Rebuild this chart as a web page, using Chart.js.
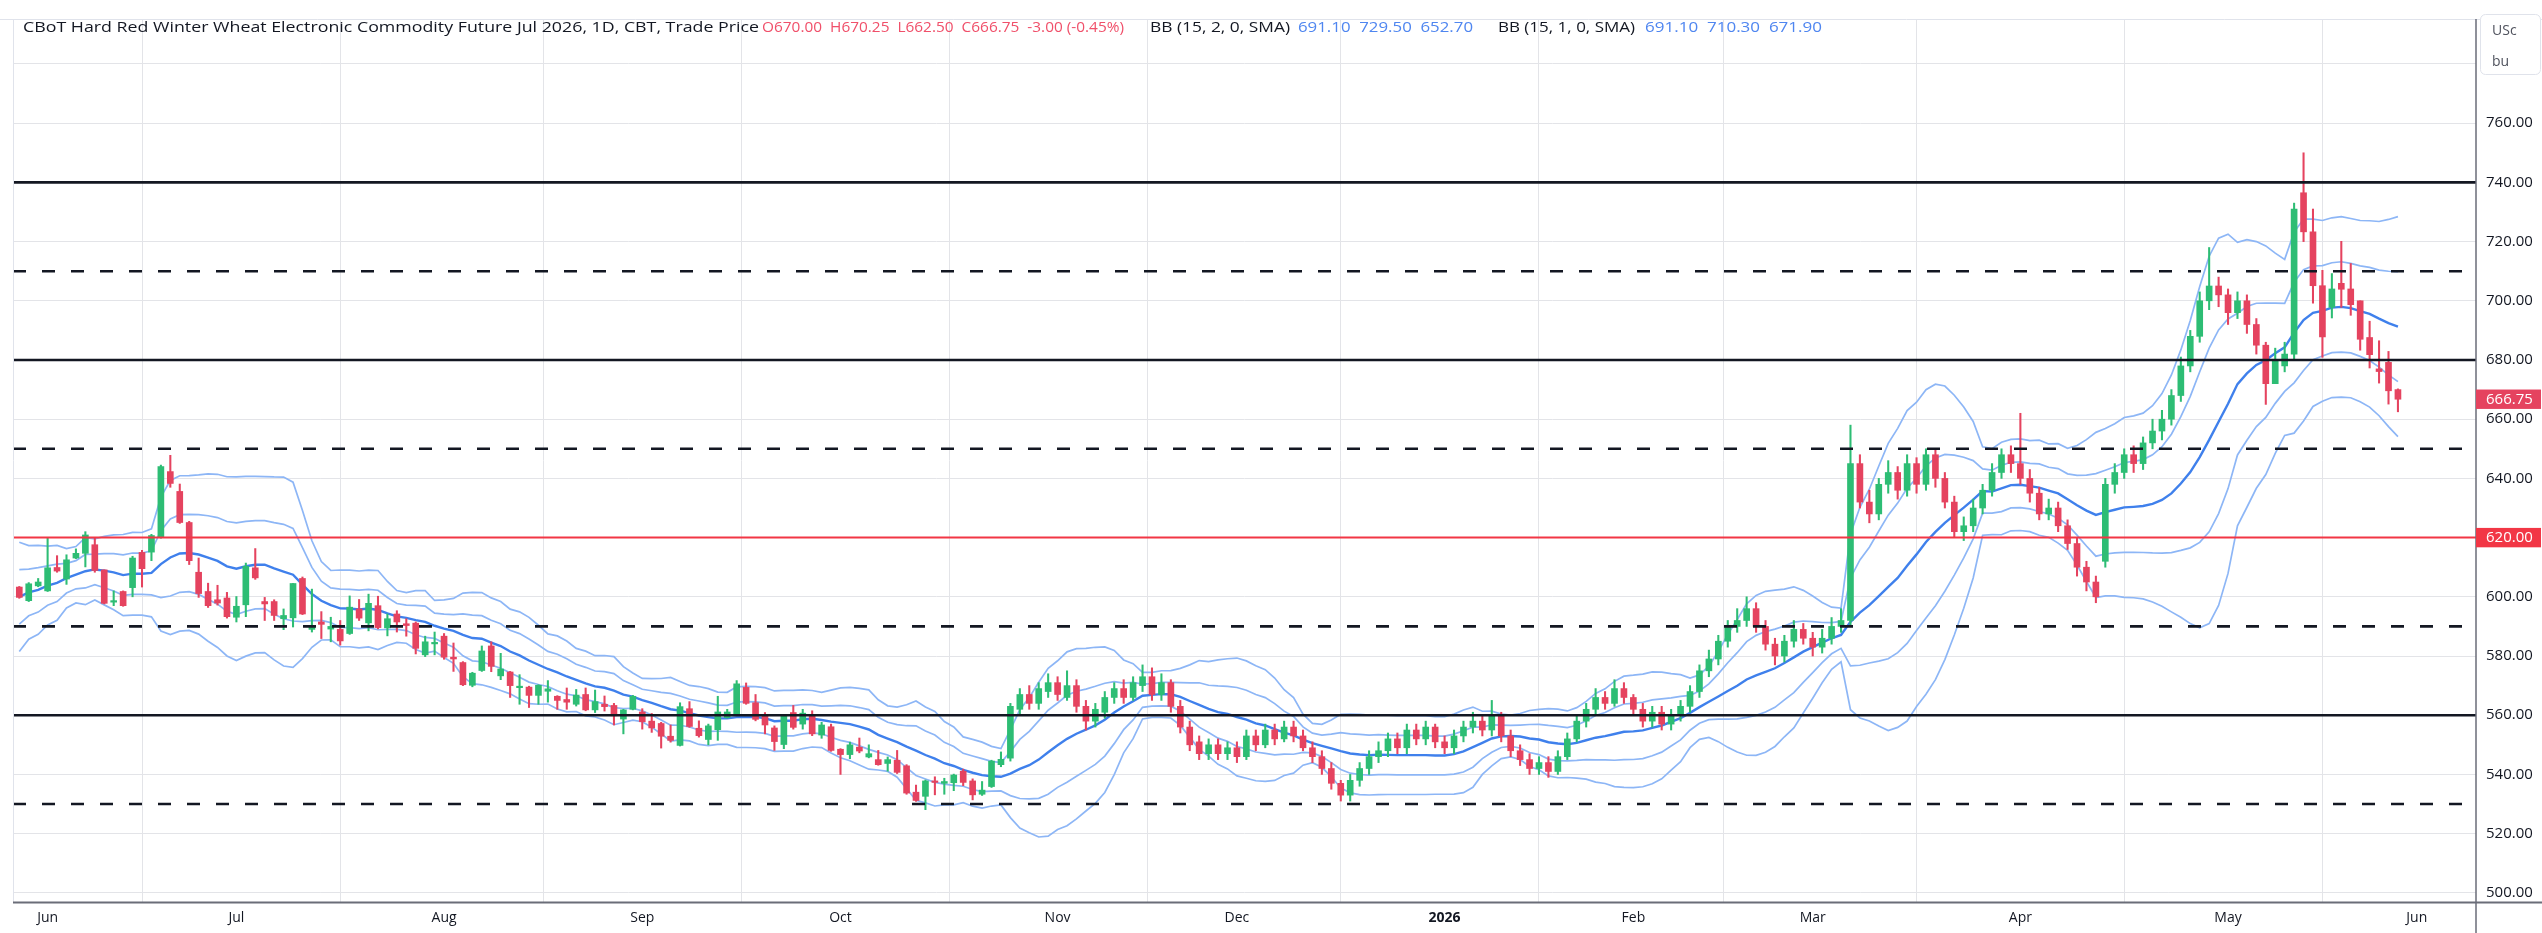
<!DOCTYPE html>
<html><head><meta charset="utf-8">
<script src="https://cdn.jsdelivr.net/npm/chart.js@4.4.1/dist/chart.umd.min.js"></script>
<style>html,body{margin:0;padding:0;background:#fff;overflow:hidden}canvas{display:block}</style>
</head><body>
<canvas id="c" width="2542" height="933" style="width:2542px;height:933px"></canvas>
<script>
// ---------- DATA ----------
const monthTickIndex  = [3, 23, 45, 66, 87, 110, 129, 151, 171, 190, 212, 234, 254];
const monthTickLabels = ['Jun','Jul','Aug','Sep','Oct','Nov','Dec','2026','Feb','Mar','Apr','May','Jun'];
const priceTicks = [500,520,540,560,580,600,620,640,660,680,700,720,740,760,780];
// closes of the 14 sessions before the first visible bar (needed for the BB(15) window)
const priorCloses = [582,592,588,595,589,597,603,600,604,607,611,606,610,616];

const opens = [
603.3,598.7,603.7,602.0,609.9,606.0,613.1,614.7,617.6,609.1,
598.2,601.8,603.1,615.0,615.1,620.0,642.3,635.6,625.1,608.3,
601.8,599.0,599.6,593.1,597.3,609.8,598.4,598.4,592.6,592.9,
606.2,589.0,591.5,589.1,589.0,587.6,595.9,591.2,597.0,589.5,
594.2,590.9,591.1,580.4,584.1,586.7,579.6,577.8,570.1,575.1,
583.4,573.3,574.6,569.3,569.5,566.7,568.1,566.4,565.3,563.7,
567.0,561.8,563.7,563.3,558.7,562.0,561.1,558.0,557.2,552.9,
549.8,562.2,555.6,551.8,555.1,559.2,560.1,569.4,564.2,560.3,
555.7,550.1,560.9,557.0,559.8,553.3,556.1,548.5,546.7,549.2,
545.9,545.0,543.7,544.8,542.9,534.0,532.6,537.8,537.0,537.2,
541.1,537.8,533.3,535.9,543.3,
545.5,562,567,564,568,571,566,570,563,558,561,566,569,566,570,573,567,571,563,556,551,547,550,547,
549,546,553,550,555,552,556,553,549,546,542,537,533,538,542,546,548,552,549,555,552,556,
551,549,553,556,558,555,560,553,548,545,542,544,541,546,552,558,562,566,564,569,
566,562,558,561,557,560,563,568,575,579,585,590,592,596,590,584,580,585,589,
586,583,586,590,592,645,632,628,638,642,636,645,638,648,640,632,622,624,630,636,642,648,
645,640,635,628,630,624,618,610,605,612,638,642,648,645,652,656,660,668,678,688,700,705,
702,696,700,692,685,672,678,682,736.5,723.3,705.1,697.8,705.9,704.0,700.0,687.6,677.0,679.2,670.0];

const highs = [
603.5,604.8,606.2,619.8,613.9,614.2,616.2,622.0,620.0,609.1,
602.0,602.0,613.7,615.7,621.1,644.5,647.8,638.1,625.5,613.1,
604.6,603.9,601.5,600.1,611.4,616.3,599.8,599.0,595.9,604.5,
606.7,602.6,595.0,593.1,592.0,600.3,599.1,600.9,600.2,594.2,
595.3,592.6,591.5,586.7,588.1,587.6,584.4,578.1,574.5,583.4,
584.8,580.9,574.8,573.7,569.8,570.3,571.7,566.6,569.2,568.7,
569.2,568.5,566.5,564.0,562.0,566.7,562.2,560.6,557.6,556.7,
564.2,564.6,558.1,557.0,566.4,562.0,571.7,570.9,567.0,560.9,
556.4,560.2,563.3,562.0,561.5,557.6,557.0,548.7,550.9,552.3,
550.0,548.1,545.9,548.1,543.3,536.4,538.1,539.2,538.7,540.1,
541.8,538.5,537.6,544.8,547.6,
564,569,570,571,574,573,575,572,565,564,568,571,572,573,577,576,574,572,565,558,553,552,552,551,
551,555,555,557,557,558,558,555,551,548,544,538,540,544,548,551,554,554,557,557,558,557,
553,555,558,561,560,565,561,555,550,547,546,546,548,554,560,564,569,568,572,571,
567,564,563,563,562,565,570,577,582,587,592,596,600,598,592,586,587,592,591,
588,589,593,596,658,648,636,640,646,644,648,647,650,650,642,634,627,633,638,645,650,651,
662,643,637,633,632,626,620,612,607,640,645,650,651,654,660,663,670,681,690,703,718,708,
704,703,702,694,686,684,686,733,750,731,710.3,709.2,720.1,712.6,700.0,693.1,686.5,682.9,670.25];

const lows = [
599.5,598.4,603.4,601.8,608.3,604.2,612.9,610.1,608.3,597.6,
597.0,596.8,600.0,603.3,612.2,619.8,637.0,624.8,610.9,599.8,
596.4,597.2,592.8,591.5,593.3,605.9,592.0,592.0,588.9,589.8,
594.0,588.1,585.9,584.8,583.7,587.3,592.0,588.5,589.2,586.8,
588.1,586.7,580.7,579.8,580.4,578.9,574.8,570.0,569.6,574.8,
574.7,572.0,566.0,563.7,562.6,563.7,564.4,562.0,562.0,563.1,
561.5,560.9,561.4,556.7,553.7,561.8,555.3,554.2,548.9,550.9,
549.6,555.9,552.6,550.0,551.5,559.0,559.8,563.7,558.1,553.7,
548.1,548.7,555.3,555.3,553.1,552.2,547.8,540.0,545.3,547.3,
545.6,543.1,541.1,540.3,533.3,530.9,528.1,533.1,533.3,534.5,
536.2,531.4,532.9,535.6,542.6,
544.5,560,562,562,566,565,565,561,555,556,559,564,564,565,568,565,565,561,554,548,545,545,545,545,
544,545,548,549,550,551,551,548,544,540,535,531,531,536,540,544,546,547,547,550,550,549,
547,547,551,554,553,553,551,546,543,540,540,539,540,545,551,556,560,562,563,564,
560,556,556,555,555,558,561,566,573,577,583,588,590,588,582,577,578,583,584,
580,581,584,588,590,630,625,626,635,633,634,635,636,637,630,620,619,622,628,634,640,642,
638,632,626,626,622,616,607,602,598,610,635,640,642,643,650,653,658,666,676,686,697,698,
692,694,689,682,665,672,676,680,720,699.2,680.9,694.2,697.8,695.1,683.3,677.3,672.2,665.1,662.5];

const closes = [
599.8,604.4,605.0,609.8,608.7,612.5,614.7,620.9,608.9,597.8,
598.6,597.0,613.1,609.5,620.7,644.0,638.3,625.1,612.2,601.1,
597.0,597.9,593.3,596.8,610.3,606.4,597.6,593.7,593.7,604.5,
594.2,590.3,590.7,590.0,585.1,596.5,592.8,597.8,589.6,592.6,
591.5,590.3,582.6,584.8,584.5,579.6,579.0,570.3,574.2,581.7,
576.5,575.6,570.0,569.8,566.7,570.1,568.9,565.0,564.4,566.8,
561.8,564.6,562.9,559.8,561.8,566.4,557.8,555.7,552.9,551.5,
562.9,556.2,553.1,556.4,561.1,561.1,570.6,564.0,558.6,556.7,
551.1,560.0,555.9,560.7,553.7,556.7,548.1,546.7,550.0,547.9,
547.0,543.3,545.0,540.7,533.7,531.2,537.8,537.3,537.6,539.8,
537.3,533.1,534.7,544.5,545.1,
563,567,564,569,571,567,570,563,558,562,566,569,566,571,573,567,571,563,556,550,547,550,547,549,
546,553,550,555,552,556,553,549,546,542,537,533,538,542,546,548,552,549,555,552,556,551,
549,553,556,558,555,560,553,548,545,542,544,541,546,552,558,562,566,564,569,566,
562,558,561,557,560,563,568,575,579,585,590,592,596,590,584,580,585,589,586,
583,586,590,592,645,632,628,638,642,636,645,638,648,640,632,622,624,630,636,642,648,645,
640,635,628,630,624,618,610,605,600,638,642,648,645,652,656,660,668,678,688,700,705,702,
696,700,692,685,672,680,682,731,723.3,705.1,687.8,704.0,703.9,698.7,687.0,681.8,676.1,669.6,666.75];

const levelsSolid  = [740, 680, 560];
const levelsDashed = [710, 650, 590, 530];
const levelRed = 620;

// ---------- derived: Bollinger Bands (SMA 15, population stdev) ----------
const allC = priorCloses.concat(closes);
const P = priorCloses.length;
const basis = [], up2 = [], dn2 = [], up1 = [], dn1 = [];
for (let i = 0; i < closes.length; i++) {
  const w = allC.slice(P + i - 14, P + i + 1);
  const m = w.reduce((a, b) => a + b, 0) / w.length;
  const sd = Math.sqrt(w.reduce((a, b) => a + (b - m) * (b - m), 0) / w.length);
  basis.push(m); up2.push(m + 2 * sd); dn2.push(m - 2 * sd); up1.push(m + sd); dn1.push(m - sd);
}

const N = closes.length;
const X_MIN = -0.667, X_MAX = 260.27;
const UP = '#2dbd74', DN = '#e5435f';
const isUp = i => closes[i] >= opens[i];
const idx = closes.map((_, i) => i);
const band = (arr, color, w) => ({ type: 'line', data: idx.map(i => ({ x: i, y: arr[i] })), borderColor: color, borderWidth: w, pointRadius: 0, tension: 0, order: 3 });
const hline = (v, color, w, dash) => ({ type: 'line', data: [{ x: X_MIN, y: v }, { x: X_MAX, y: v }], borderColor: color, borderWidth: w, borderDash: dash || [], pointRadius: 0, order: 0 });

const datasets = [
  { type: 'bar', data: idx.map(i => ({ x: i, y: [lows[i], highs[i]] })), backgroundColor: c => isUp(c.dataIndex) ? UP : DN, barThickness: 1.4, grouped: false, order: 2 },
  { type: 'bar', data: idx.map(i => ({ x: i, y: [opens[i], closes[i]] })), backgroundColor: c => isUp(c.dataIndex) ? UP : DN, barThickness: 6, minBarLength: 1.5, grouped: false, order: 1 },
  band(up2, '#8db6f6', 1.7), band(dn2, '#8db6f6', 1.7),
  band(up1, '#8db6f6', 1.7), band(dn1, '#8db6f6', 1.7),
  band(basis, '#3f80ec', 2.4),
  ...levelsSolid.map(v => hline(v, '#131722', 2.6)),
  ...levelsDashed.map(v => hline(v, '#131722', 2.6, [13, 16])),
  hline(levelRed, '#f23645', 2)
];

function fitText(c, txt, x0, x1, y, color, size, weight) {
  c.save();
  c.font = (weight || 'normal') + ' ' + size + 'px "Open Sans"';
  const w = c.measureText(txt).width;
  c.translate(x0, y); c.scale((x1 - x0) / w, 1);
  c.fillStyle = color; c.textBaseline = 'middle'; c.textAlign = 'left';
  c.fillText(txt, 0, 0);
  c.restore();
}

const deco = {
  id: 'deco',
  beforeDraw(chart) { const c = chart.ctx; c.save(); c.fillStyle = '#fff'; c.fillRect(0, 0, chart.width, chart.height); c.restore(); },
  afterDraw(chart) {
    const c = chart.ctx, a = chart.chartArea, ys = chart.scales.y;
    c.save();
    c.strokeStyle = '#e0e3eb'; c.lineWidth = 1;
    c.beginPath(); c.moveTo(0, a.top + 0.5); c.lineTo(chart.width, a.top + 0.5);
    c.moveTo(a.left + 0.5, a.top); c.lineTo(a.left + 0.5, a.bottom); c.stroke();
    c.strokeStyle = '#6a6d78';
    c.lineWidth = 2; c.beginPath(); c.moveTo(a.left, a.bottom + 0.5); c.lineTo(chart.width, a.bottom + 0.5); c.stroke();
    c.lineWidth = 1.5; c.beginPath(); c.moveTo(a.right, a.top); c.lineTo(a.right, chart.height); c.stroke();
    const tag = (v, color) => {
      const y = ys.getPixelForValue(v);
      c.fillStyle = color; c.fillRect(a.right, y - 9.7, 65, 19.4);
      c.fillStyle = '#fff'; c.font = '15px "Open Sans"'; c.textBaseline = 'middle'; c.textAlign = 'left';
      c.fillText(v.toFixed(2), a.right + 10, y + 0.5);
    };
    tag(closes[N - 1], DN);
    tag(levelRed, '#f23645');
    c.fillStyle = '#fff'; c.strokeStyle = '#e0e3eb'; c.lineWidth = 1;
    c.beginPath(); c.roundRect(2480.5, 14.5, 60, 60, 5); c.fill(); c.stroke();
    c.fillStyle = '#50535e'; c.font = '14px "Open Sans"'; c.textBaseline = 'middle'; c.textAlign = 'left';
    c.fillText('USc', 2492, 31); c.fillText('bu', 2492, 62);
    c.restore();
    fitText(c, 'CBoT Hard Red Winter Wheat Electronic Commodity Future Jul 2026, 1D, CBT, Trade Price', 23, 759, 28, '#131722', 15);
    fitText(c, 'O670.00  H670.25  L662.50  C666.75  -3.00 (-0.45%)', 762, 1124, 28, '#f0506a', 15);
    fitText(c, 'BB (15, 2, 0, SMA)', 1150, 1290, 28, '#131722', 15);
    fitText(c, '691.10  729.50  652.70', 1298, 1473, 28, '#4f86f0', 15);
    fitText(c, 'BB (15, 1, 0, SMA)', 1498, 1635, 28, '#131722', 15);
    fitText(c, '691.10  710.30  671.90', 1645, 1822, 28, '#4f86f0', 15);
  }
};

new Chart(document.getElementById('c'), {
  type: 'bar',
  data: { datasets },
  plugins: [deco],
  options: {
    responsive: false, animation: false, devicePixelRatio: 1, events: [],
    layout: { padding: { left: 13, top: 7, right: 0, bottom: 0 } },
    plugins: { legend: { display: false }, tooltip: { enabled: false } },
    scales: {
      x: {
        type: 'linear', min: X_MIN, max: X_MAX, offset: false,
        grid: { color: '#e3e4e8', lineWidth: 1, drawTicks: false },
        border: { display: false },
        afterBuildTicks: s => { s.ticks = monthTickIndex.map(v => ({ value: v })); },
        afterFit: s => { s.height = 31; },
        ticks: {
          autoSkip: false, maxRotation: 0, padding: 8, color: '#131722',
          font: c => ({ family: 'Open Sans', size: 14, weight: (c.tick && c.tick.value === 151) ? 'bold' : 'normal' }),
          callback: v => { const k = monthTickIndex.indexOf(v); return k >= 0 ? monthTickLabels[k] : ''; }
        }
      },
      y: {
        position: 'right', min: 496.9, max: 795.2,
        grid: { color: '#e3e4e8', lineWidth: 1, drawTicks: false },
        border: { display: false },
        afterBuildTicks: s => { s.ticks = priceTicks.map(v => ({ value: v })); },
        afterFit: s => { s.width = 66; },
        ticks: { padding: 10, color: '#131722', font: { family: 'Open Sans', size: 15 }, callback: v => v.toFixed(2) }
      }
    }
  }
});
</script>
</body></html>
